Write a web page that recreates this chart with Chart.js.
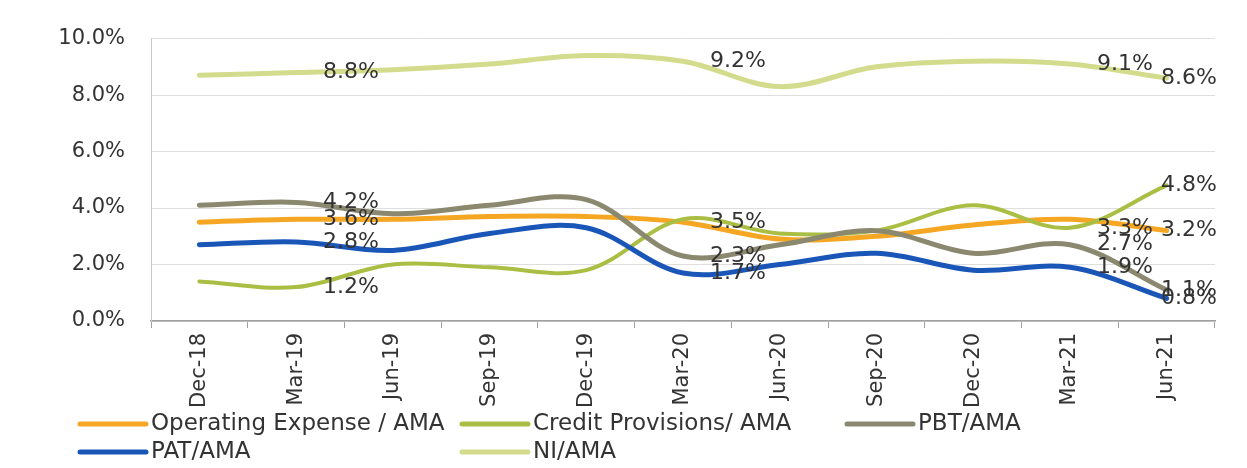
<!DOCTYPE html>
<html>
<head>
<meta charset="utf-8">
<script src="https://cdn.jsdelivr.net/npm/chart.js@4.4.1/dist/chart.umd.min.js"></script>
<style>
  html, body { margin: 0; padding: 0; background: #fff; }
</style>
</head>
<body>
<canvas id="myChart" width="1247" height="468"></canvas>
<script>
var quarters = ["Dec-18", "Mar-19", "Jun-19", "Sep-19", "Dec-19", "Mar-20", "Jun-20", "Sep-20", "Dec-20", "Mar-21", "Jun-21"];
var opexValues   = [3.5, 3.6, 3.6, 3.7, 3.7, 3.5, 2.9, 3.0, 3.4, 3.6, 3.2];
var creditValues = [1.4, 1.2, 2.0, 1.9, 1.8, 3.6, 3.1, 3.2, 4.1, 3.3, 4.8];
var pbtValues    = [4.1, 4.2, 3.8, 4.1, 4.3, 2.3, 2.7, 3.2, 2.4, 2.7, 1.1];
var patValues    = [2.7, 2.8, 2.5, 3.1, 3.3, 1.7, 2.0, 2.4, 1.8, 1.9, 0.8];
var niValues     = [8.7, 8.8, 8.9, 9.1, 9.4, 9.2, 8.3, 9.0, 9.2, 9.1, 8.6];
var yTicks = [0, 2, 4, 6, 8, 10];

// which points carry a value label
var opexLabels   = [1, 5, 10];
var creditLabels = [1, 9, 10];
var pbtLabels    = [1, 5, 9, 10];
var patLabels    = [1, 5, 9, 10];
var niLabels     = [1, 5, 9, 10];

Chart.defaults.font.family = '"DejaVu Sans"';
Chart.defaults.color = '#404040';

// data labels, Excel style: right of the point, kept inside the chart
var pointLabels = {
  id: 'pointLabels',
  afterDatasetsDraw: function(chart) {
    var ctx = chart.ctx;
    ctx.save();
    ctx.font = '22px "DejaVu Sans"';
    ctx.fillStyle = '#333';
    ctx.textBaseline = 'middle';
    ctx.textAlign = 'left';
    chart.data.datasets.forEach(function(ds, i) {
      var meta = chart.getDatasetMeta(i);
      ds.labelAt.forEach(function(idx) {
        var pt = meta.data[idx];
        var txt = ds.data[idx].toFixed(1) + '%';
        var w = ctx.measureText(txt).width;
        var x = Math.min(pt.x + 27, chart.chartArea.right + 2 - w);
        ctx.fillText(txt, x, pt.y);
      });
    });
    ctx.restore();
  }
};

// legend laid out in a grid like the Excel one
var gridLegend = {
  id: 'gridLegend',
  afterDraw: function(chart) {
    var ctx = chart.ctx;
    var slots = [
      {ds: 0, x: 80,  y: 424},
      {ds: 1, x: 462, y: 424},
      {ds: 2, x: 847, y: 424},
      {ds: 3, x: 80,  y: 452},
      {ds: 4, x: 462, y: 452}
    ];
    ctx.save();
    ctx.font = '23px "DejaVu Sans"';
    ctx.textBaseline = 'middle';
    ctx.textAlign = 'left';
    slots.forEach(function(s) {
      var ds = chart.data.datasets[s.ds];
      ctx.strokeStyle = ds.borderColor;
      ctx.lineWidth = 5;
      ctx.lineCap = 'round';
      ctx.beginPath();
      ctx.moveTo(s.x, s.y);
      ctx.lineTo(s.x + 66, s.y);
      ctx.stroke();
      ctx.fillStyle = '#333';
      ctx.fillText(ds.label, s.x + 71, s.y);
    });
    ctx.restore();
  }
};

new Chart(document.getElementById("myChart"), {
  type: "line",
  data: {
    labels: quarters,
    datasets: [
      {label: "Operating Expense / AMA", data: opexValues, labelAt: opexLabels, borderColor: "#F5A623", borderWidth: 5, order: 5},
      {label: "Credit Provisions/ AMA", data: creditValues, labelAt: creditLabels, borderColor: "#ABBE44", borderWidth: 4, order: 4},
      {label: "PBT/AMA", data: pbtValues, labelAt: pbtLabels, borderColor: "#8B8870", borderWidth: 5, order: 3},
      {label: "PAT/AMA", data: patValues, labelAt: patLabels, borderColor: "#1A56B8", borderWidth: 5, order: 2},
      {label: "NI/AMA", data: niValues, labelAt: niLabels, borderColor: "#D2DC8C", borderWidth: 5, order: 1}
    ]
  },
  options: {
    responsive: false,
    animation: false,
    devicePixelRatio: 1,
    layout: {padding: {top: 23, right: 32, left: 0, bottom: 0}},
    elements: {
      line: {tension: 0.35, fill: false, borderCapStyle: 'round'},
      point: {radius: 0, hoverRadius: 0}
    },
    plugins: {
      legend: {display: false},
      tooltip: {enabled: false}
    },
    scales: {
      x: {
        offset: true,
        grid: {offset: true, drawOnChartArea: false, drawTicks: true, tickLength: 7, color: '#a0a0a0'},
        border: {color: '#a0a0a0', width: 1.5},
        ticks: {minRotation: 90, maxRotation: 90, autoSkip: false, padding: 5, font: {size: 21}, color: '#333'},
        afterFit: function(scale) { scale.height = 147; }
      },
      y: {
        min: 0,
        max: 10,
        afterBuildTicks: function(axis) { axis.ticks = yTicks.map(function(v) { return {value: v}; }); },
        grid: {color: '#dedede', lineWidth: 1, drawTicks: false},
        border: {color: '#c8c8c8', width: 1},
        ticks: {padding: 26, font: {size: 21}, color: '#333',
          callback: function(v) { return v.toFixed(1) + '%'; }},
        afterFit: function(scale) { scale.width = 151; }
      }
    }
  },
  plugins: [pointLabels, gridLegend]
});
</script>
</body>
</html>
